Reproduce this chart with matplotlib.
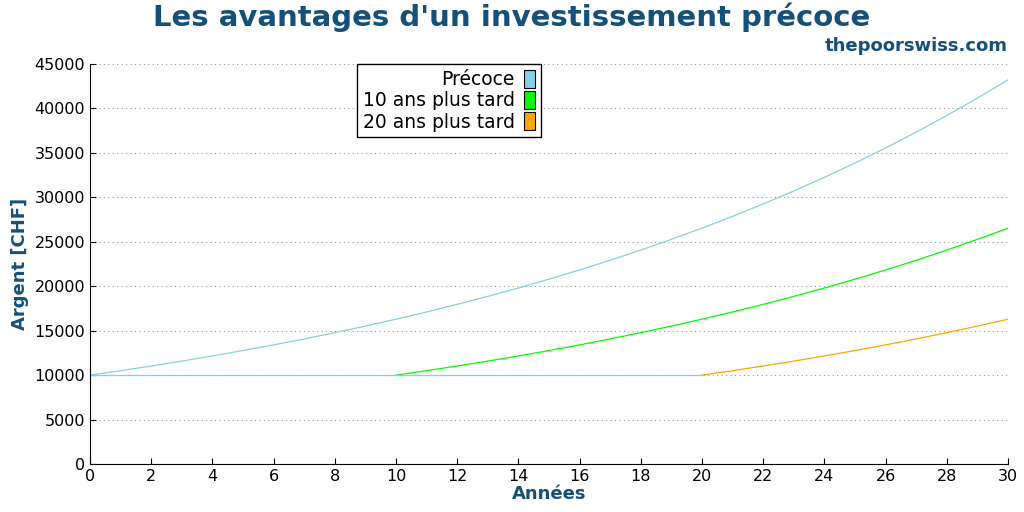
import matplotlib
matplotlib.use("Agg")
import matplotlib.pyplot as plt
from matplotlib.patches import Patch

years = list(range(0, 31))
precoce = [10000,10500,11025,11576,12155,12763,13401,14071,14775,15513,16289,17103,17959,18856,19799,20789,21829,22920,24066,25270,26533,27860,29253,30715,32251,33864,35557,37335,39201,41161,43219]
plus10 = [10000]*11 + [10500,11025,11576,12155,12763,13401,14071,14775,15513,16289,17103,17959,18856,19799,20789,21829,22920,24066,25270,26533]
plus20 = [10000]*21 + [10500,11025,11576,12155,12763,13401,14071,14775,15513,16289]
start10, start20 = 10, 20
labels = ["Précoce", "10 ans plus tard", "20 ans plus tard"]
colors = ["#87ceeb", "#00ff00", "#ffa500"]
blue = "#14507a"

fig = plt.figure(figsize=(10.24, 5.12), dpi=100)
ax = fig.add_axes([90/1024, 48/512, 918/1024, 400/512])
ax.plot(years[start20:], plus20[start20:], color=colors[2], lw=0.9)
ax.plot(years[start10:], plus10[start10:], color=colors[1], lw=0.9)
ax.plot(years[:start20 + 1], plus20[:start20 + 1], color=colors[0], lw=0.9)
ax.plot(years, precoce, color=colors[0], lw=0.9)
ax.set_xlim(0, 30)
ax.set_ylim(0, 45000)
ax.set_xticks(range(0, 31, 2))
ax.set_yticks(range(0, 45001, 5000))
ax.yaxis.grid(True, linestyle=(0, (1, 3)), color="#999999", lw=0.8)
ax.tick_params(labelsize=11.5, direction="in", length=4)
for s in ["top", "right"]:
    ax.spines[s].set_visible(False)
ax.set_xlabel("Années", color=blue, fontsize=13, fontweight="bold", labelpad=1)
ax.set_ylabel("Argent [CHF]", color=blue, fontsize=13, fontweight="bold")
fig.text(0.5, 0.967, "Les avantages d'un investissement précoce", ha="center", va="center",
         fontsize=21, fontweight="bold", color=blue)
fig.text(1008/1024, 0.91, "thepoorswiss.com", ha="right", va="center", fontsize=13,
         fontweight="bold", color=blue)
handles = [Patch(facecolor=c, edgecolor="black", lw=0.8) for c in colors]
leg = ax.legend(handles, labels, loc="upper left", bbox_to_anchor=(0.291, 1.0),
                fontsize=13.5, markerfirst=False, fancybox=False, framealpha=1,
                edgecolor="black", handlelength=0.6, handleheight=1.1,
                borderpad=0.3, labelspacing=0.1, handletextpad=0.5, borderaxespad=0)
for t in leg.get_texts():
    t.set_ha("right")
leg._legend_box.align = "right"
fig.savefig("out.png")
